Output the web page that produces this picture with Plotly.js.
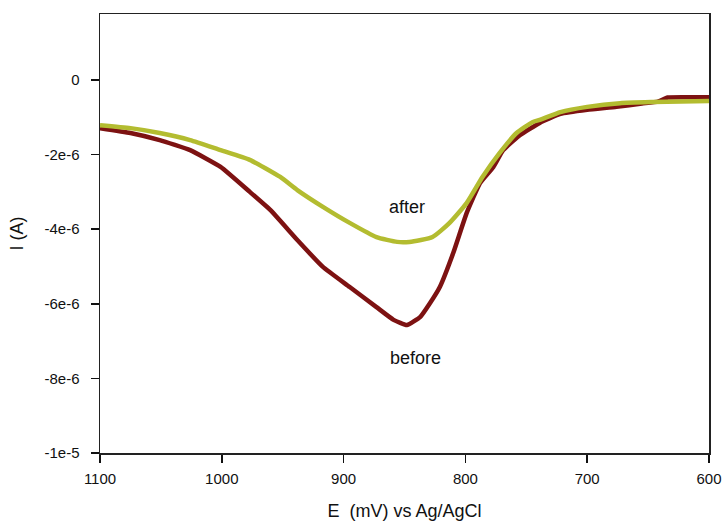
<!DOCTYPE html>
<html>
<head>
<meta charset="utf-8">
<script src="https://cdn.plot.ly/plotly-3.0.1.min.js"></script>
<style>html,body{margin:0;padding:0;background:#fff;}#chart{width:722px;height:523px;}</style>
</head>
<body>
<div id="chart"></div>
<script>
// Potential (mV vs Ag/AgCl) and current (A)
var beforeE = [1100, 1075, 1051, 1026, 1001, 977, 960, 938, 917, 895, 873, 859, 848, 837, 829, 821, 810, 799, 788, 777, 769, 755, 739, 722, 700, 676, 655, 642, 634, 620, 600];
var beforeI = [-1.29e-6, -1.42e-6, -1.61e-6, -1.88e-6, -2.33e-6, -3.00e-6, -3.49e-6, -4.29e-6, -5.01e-6, -5.55e-6, -6.09e-6, -6.43e-6, -6.57e-6, -6.35e-6, -5.98e-6, -5.55e-6, -4.64e-6, -3.57e-6, -2.76e-6, -2.33e-6, -1.88e-6, -1.47e-6, -1.15e-6, -0.91e-6, -0.80e-6, -0.72e-6, -0.63e-6, -0.58e-6, -0.47e-6, -0.46e-6, -0.46e-6];
var afterE = [1100, 1075, 1051, 1026, 1001, 977, 952, 938, 917, 895, 873, 856, 846, 827, 813, 799, 786, 772, 758, 745, 739, 722, 700, 673, 646, 600];
var afterI = [-1.21e-6, -1.29e-6, -1.42e-6, -1.61e-6, -1.88e-6, -2.14e-6, -2.60e-6, -2.95e-6, -3.40e-6, -3.83e-6, -4.21e-6, -4.34e-6, -4.34e-6, -4.21e-6, -3.83e-6, -3.30e-6, -2.60e-6, -1.96e-6, -1.42e-6, -1.13e-6, -1.07e-6, -0.86e-6, -0.72e-6, -0.62e-6, -0.59e-6, -0.56e-6];
var xTicks = [1100, 1000, 900, 800, 700, 600];
var yTickVals = [0, -2e-6, -4e-6, -6e-6, -8e-6, -1e-5];
var yTickText = ['0', '-2e-6', '-4e-6', '-6e-6', '-8e-6', '-1e-5'];
var labels = ['after', 'before'];
var labelE = [848, 841];
var labelI = [-3.4e-6, -7.45e-6];

var font = 'Liberation Sans, Arial, sans-serif';
var traces = [
  {x: beforeE, y: beforeI, mode: 'lines', line: {color: '#7d1212', width: 4.5, shape: 'spline', smoothing: 0.4}, name: 'before', hoverinfo: 'skip'},
  {x: afterE, y: afterI, mode: 'lines', line: {color: '#b3bc30', width: 4.5, shape: 'spline', smoothing: 0.5}, name: 'after', hoverinfo: 'skip'}
];
var layout = {
  width: 722, height: 523,
  margin: {l: 100, r: 13, t: 14, b: 70},
  paper_bgcolor: '#fff', plot_bgcolor: '#fff',
  showlegend: false,
  font: {family: font, size: 15, color: '#111'},
  xaxis: {
    range: [1100, 600], tickvals: xTicks, ticktext: xTicks.map(String),
    ticks: 'outside', ticklen: 8, tickwidth: 1.5, tickcolor: '#111',
    showline: true, linecolor: '#222', linewidth: 1.5, mirror: true,
    showgrid: false, zeroline: false, ticklabelstandoff: 3,
    tickfont: {size: 15, family: font},
    title: {text: 'E  (mV) vs Ag/AgCl', font: {size: 18, family: font}, standoff: 19}
  },
  yaxis: {
    range: [-1e-5, 1.77e-6], tickvals: yTickVals, ticktext: yTickText,
    ticks: 'outside', ticklen: 8, tickwidth: 1.5, tickcolor: '#111',
    showline: true, linecolor: '#222', linewidth: 1.5, mirror: true,
    showgrid: false, zeroline: false, ticklabelstandoff: 8,
    tickfont: {size: 15, family: font},
    title: {text: 'I (A)', font: {size: 18, family: font}, standoff: 16}
  },
  annotations: labels.map(function (t, i) {
    return {x: labelE[i], y: labelI[i], text: t, showarrow: false, font: {size: 18, family: font, color: '#111'}};
  })
};
Plotly.newPlot('chart', traces, layout, {staticPlot: true, displayModeBar: false});
</script>
</body>
</html>
